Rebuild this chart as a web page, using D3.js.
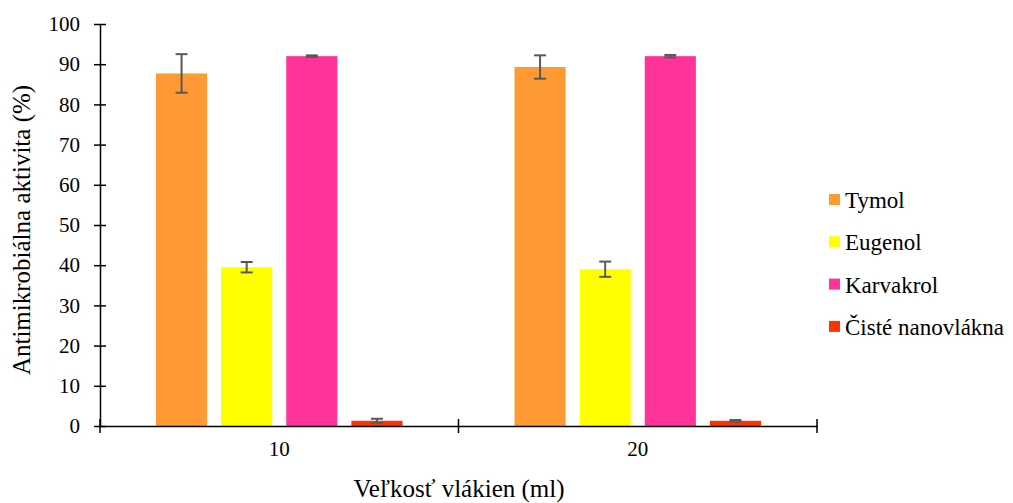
<!DOCTYPE html>
<html>
<head>
<meta charset="utf-8">
<script src="https://cdn.jsdelivr.net/npm/d3@7"></script>
<style>
  html, body { margin: 0; padding: 0; background: #fff; }
  svg { display: block; }
  svg text { font-family: "Liberation Serif", "Times New Roman", Tinos, "DejaVu Serif", "Noto Serif", serif; fill: #000; }
</style>
</head>
<body>
<svg id="chart" width="1013" height="503"></svg>
<script>
// Fibre volume groups and antimicrobial activity (%) per essential oil
const categories = ["10", "20"];
const seriesNames = ["Tymol", "Eugenol", "Karvakrol", "Čisté nanovlákna"];
const seriesColors = ["#FF9933", "#FFFF00", "#FF3399", "#FF3300"];
const tymol = [87.7, 89.3];
const eugenol = [39.5, 39.0];
const karvakrol = [92.0, 92.0];
const ciste = [1.3, 1.3];
const tymolErr = [4.8, 2.9];
const eugenolErr = [1.3, 1.9];
const karvakrolErr = [0.2, 0.3];
const cisteErr = [0.5, 0.2];
const yTicks = [0, 10, 20, 30, 40, 50, 60, 70, 80, 90, 100];

const seriesValues = [tymol, eugenol, karvakrol, ciste];
const seriesErrors = [tymolErr, eugenolErr, karvakrolErr, cisteErr];

const serif = '"Liberation Serif", "Times New Roman", Tinos, "DejaVu Serif", "Noto Serif", serif';
const svg = d3.select("#chart");
const plotLeft = 100, plotRight = 817, plotTop = 24, plotBottom = 426;

const x0 = d3.scaleBand().domain(categories).range([plotLeft, plotRight]).paddingInner(0).paddingOuter(0);
const x1 = d3.scaleBand().domain(seriesNames).range([56, x0.bandwidth() - 56]).paddingInner(0.215).paddingOuter(0);
const y = d3.scaleLinear().domain([0, 100]).range([plotBottom, plotTop]);

// Bars
const groups = svg.append("g").selectAll("g")
  .data(categories)
  .join("g")
  .attr("transform", d => `translate(${x0(d)},0)`);

groups.each(function(cat, ci) {
  const g = d3.select(this);
  seriesNames.forEach((name, si) => {
    const v = seriesValues[si][ci];
    g.append("rect")
      .attr("x", x1(name))
      .attr("y", y(v))
      .attr("width", x1.bandwidth())
      .attr("height", y(0) - y(v))
      .attr("fill", seriesColors[si]);
  });
});

// Error bars
groups.each(function(cat, ci) {
  const g = d3.select(this);
  seriesNames.forEach((name, si) => {
    const v = seriesValues[si][ci];
    const e = seriesErrors[si][ci];
    const cx = x1(name) + x1.bandwidth() / 2;
    const eg = g.append("g").attr("stroke", "#595959").attr("stroke-width", 2).attr("fill", "none");
    eg.append("line").attr("x1", cx).attr("x2", cx).attr("y1", y(v + e)).attr("y2", y(v - e));
    eg.append("line").attr("x1", cx - 6).attr("x2", cx + 6).attr("y1", y(v + e)).attr("y2", y(v + e));
    eg.append("line").attr("x1", cx - 6).attr("x2", cx + 6).attr("y1", y(v - e)).attr("y2", y(v - e));
  });
});

// Y axis
const yAxis = svg.append("g")
  .attr("transform", `translate(${plotLeft},0)`)
  .call(d3.axisLeft(y).tickValues(yTicks).tickSize(0).tickPadding(20));
yAxis.attr("font-family", null);
yAxis.select(".domain").attr("stroke", "#000").attr("stroke-width", 1.5);
yAxis.selectAll(".tick text").style("font-size", "21px").style("font-family", serif);
yAxis.selectAll(".tick").append("line")
  .attr("x1", -6).attr("x2", 6).attr("stroke", "#000").attr("stroke-width", 1.5);

// X axis
const xAxis = svg.append("g")
  .attr("transform", `translate(0,${plotBottom})`)
  .call(d3.axisBottom(x0).tickSize(0).tickPadding(15));
xAxis.attr("font-family", null);
xAxis.select(".domain").attr("stroke", "#000").attr("stroke-width", 1.5);
xAxis.selectAll(".tick text").style("font-size", "21px").style("font-family", serif);
const boundaries = [plotLeft].concat(categories.map(c => x0(c) + x0.bandwidth()));
xAxis.selectAll(".xb").data(boundaries).join("line")
  .attr("x1", d => d).attr("x2", d => d)
  .attr("y1", -7).attr("y2", 7)
  .attr("stroke", "#000").attr("stroke-width", 1.5);

// Axis titles
svg.append("text")
  .attr("x", 459).attr("y", 497)
  .attr("text-anchor", "middle").style("font-size", "25px").style("font-family", serif)
  .text("Veľkosť vlákien (ml)");
svg.append("text")
  .attr("transform", "translate(30,230) rotate(-90)")
  .attr("text-anchor", "middle").style("font-size", "25px").style("font-family", serif)
  .text("Antimikrobiálna aktivita (%)");

// Legend
const legend = svg.append("g").selectAll("g")
  .data(seriesNames)
  .join("g")
  .attr("transform", (d, i) => `translate(829,${200 + i * 42.3})`);
legend.append("rect")
  .attr("x", 0).attr("y", -6).attr("width", 11).attr("height", 11)
  .attr("fill", (d, i) => seriesColors[i]);
legend.append("text")
  .attr("x", 16).attr("y", 8)
  .style("font-size", "23px").style("font-family", serif)
  .text(d => d);
</script>
</body>
</html>
